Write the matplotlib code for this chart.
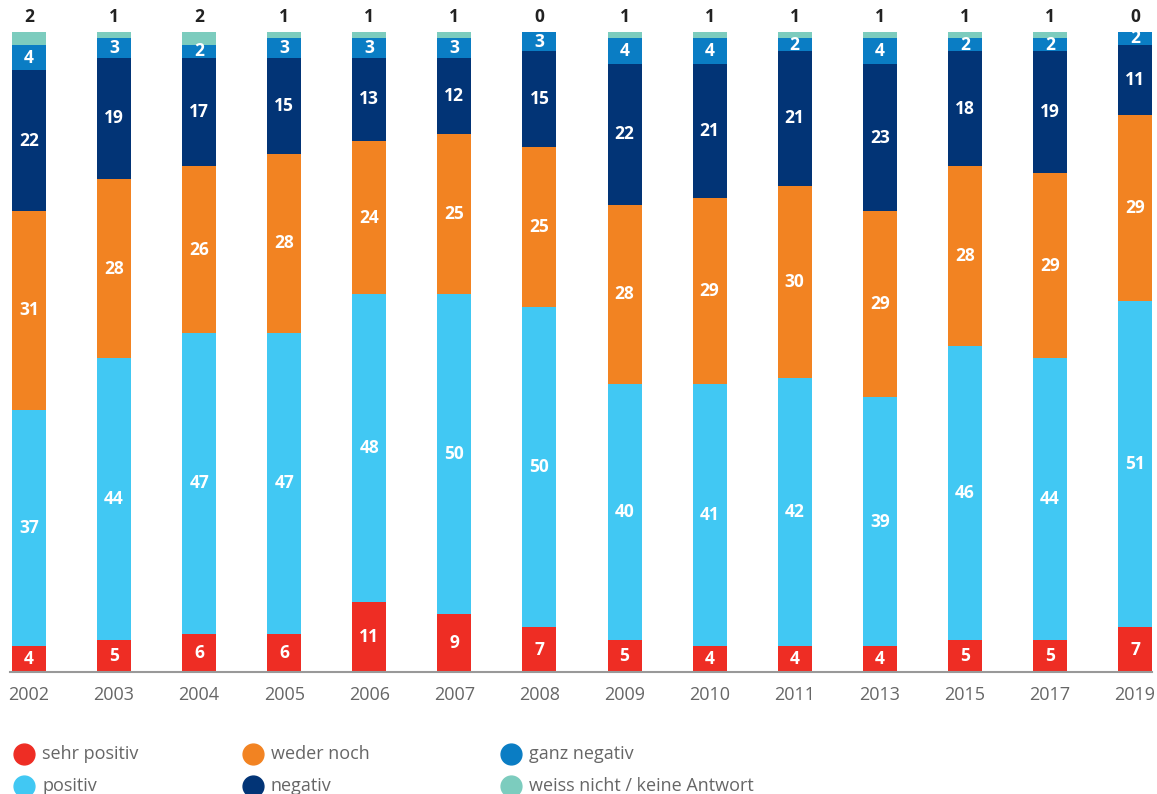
import matplotlib.pyplot as plt
from matplotlib.lines import Line2D
import numpy as np

plt.rcParams['font.family'] = ['Open Sans', 'DejaVu Sans']

# Survey years and answer shares (percent)
years = ['2002', '2003', '2004', '2005', '2006', '2007', '2008',
         '2009', '2010', '2011', '2013', '2015', '2017', '2019']
sehr_positiv = [4, 5, 6, 6, 11, 9, 7, 5, 4, 4, 4, 5, 5, 7]
positiv = [37, 44, 47, 47, 48, 50, 50, 40, 41, 42, 39, 46, 44, 51]
weder_noch = [31, 28, 26, 28, 24, 25, 25, 28, 29, 30, 29, 28, 29, 29]
negativ = [22, 19, 17, 15, 13, 12, 15, 22, 21, 21, 23, 18, 19, 11]
ganz_negativ = [4, 3, 2, 3, 3, 3, 3, 4, 4, 2, 4, 2, 2, 2]
weiss_nicht = [2, 1, 2, 1, 1, 1, 0, 1, 1, 1, 1, 1, 1, 0]

series = [
    ('sehr positiv', sehr_positiv, '#EE2D24'),
    ('positiv', positiv, '#41C8F3'),
    ('weder noch', weder_noch, '#F28322'),
    ('negativ', negativ, '#023476'),
    ('ganz negativ', ganz_negativ, '#0A7DC4'),
    ('weiss nicht / keine Antwort', weiss_nicht, '#7CCCBE'),
]

W, H = 1157, 794
fig = plt.figure(figsize=(W / 100, H / 100), dpi=100)
ax = fig.add_axes([10 / W, (H - 672) / H, 1142 / W, 640 / H])

x = np.arange(len(years))
bottom = np.zeros(len(years))
for name, vals, color in series:
    vals = np.array(vals, dtype=float)
    ax.bar(x, vals, 0.4, bottom=bottom, color=color, linewidth=0)
    if name != 'weiss nicht / keine Antwort':
        for xi, b, v in zip(x, bottom, vals):
            ax.text(xi, b + v / 2, f'{int(v)}', ha='center', va='center',
                    color='white', fontsize=12.5, fontweight='bold')
    else:
        for xi, v in zip(x, vals):
            ax.text(xi, 102.3, f'{int(v)}', ha='center', va='center',
                    color='#222222', fontsize=12.5, fontweight='bold')
    bottom += vals

ax.set_xlim(-0.223, 13.2)
ax.set_ylim(0, 100)
ax.set_xticks(x)
ax.set_xticklabels(years, fontsize=13, color='#666666')
ax.tick_params(axis='x', length=0, pad=10)
ax.set_yticks([])
for s in ['top', 'right', 'left']:
    ax.spines[s].set_visible(False)
ax.spines['bottom'].set_color('#999999')
ax.spines['bottom'].set_linewidth(1.5)

# legend drawn in figure coordinates, three columns of two rows
col_x = [24, 253, 511]
row_y = [754, 786]
for i, (name, vals, color) in enumerate(series):
    cx = col_x[i // 2]
    cy = row_y[i % 2]
    fig.add_artist(Line2D([cx / W], [(H - cy) / H], marker='o', markersize=15,
                          color=color, linestyle='none'))
    fig.text((cx + 18) / W, (H - cy) / H, name, ha='left', va='center',
             fontsize=13, color='#666666')

fig.savefig('out.png', dpi=100)
